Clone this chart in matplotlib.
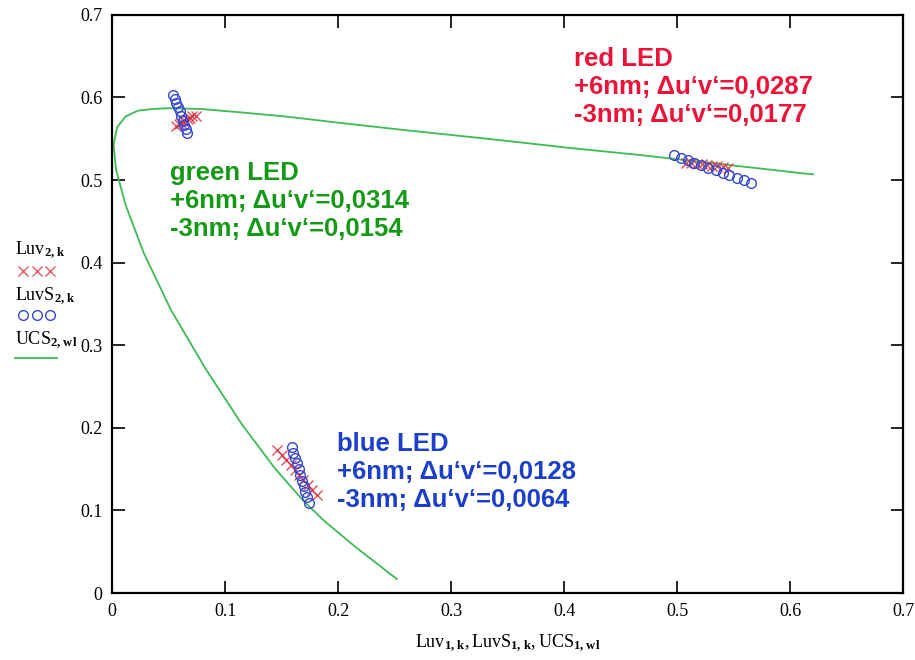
"""
LED colour shift chart: u'v' chromaticity of shifted LED spectra
on the CIE 1976 spectral locus (Mathcad style plot).
"""

import matplotlib
matplotlib.use("Agg")
import matplotlib.pyplot as plt
from matplotlib.lines import Line2D

plt.rcParams["mathtext.fontset"] = "custom"
plt.rcParams["mathtext.rm"] = "Liberation Serif"
plt.rcParams["mathtext.it"] = "Liberation Serif:italic"
plt.rcParams["mathtext.bf"] = "Liberation Serif:bold"

# ── DATA ─────────────────────────────────────────────────────
# spectral locus (UCS), blue end -> red end
ucs_u = [0.252, 0.246, 0.235, 0.216, 0.188, 0.169, 0.144, 0.115, 0.083,
         0.052, 0.028, 0.012, 0.0035, 0.0014, 0.0046, 0.012, 0.023, 0.036,
         0.050, 0.079, 0.113, 0.153, 0.203, 0.262, 0.332, 0.404, 0.469,
         0.520, 0.583, 0.611, 0.620]
ucs_v = [0.017, 0.023, 0.035, 0.055, 0.087, 0.112, 0.151, 0.204, 0.271,
         0.343, 0.412, 0.470, 0.513, 0.543, 0.564, 0.577, 0.584, 0.586,
         0.587, 0.586, 0.582, 0.577, 0.569, 0.560, 0.550, 0.539, 0.530,
         0.522, 0.5125, 0.508, 0.507]

# Luv (crosses): green, red, blue LED
luv_u = [0.057, 0.059, 0.061, 0.063, 0.065, 0.067, 0.069, 0.071, 0.074,
         0.508, 0.5125, 0.517, 0.5215, 0.526, 0.531, 0.5355, 0.540, 0.545,
         0.146, 0.150, 0.154, 0.158, 0.162, 0.1655, 0.169, 0.173, 0.177, 0.181]
luv_v = [0.566, 0.568, 0.569, 0.571, 0.572, 0.574, 0.575, 0.577, 0.578,
         0.521, 0.5205, 0.520, 0.519, 0.518, 0.5175, 0.517, 0.516, 0.515,
         0.173, 0.167, 0.161, 0.155, 0.149, 0.143, 0.137, 0.131, 0.125, 0.119]

# LuvS (circles): green, red, blue LED
luvs_u = [0.054, 0.0555, 0.057, 0.0585, 0.060, 0.0612, 0.0625, 0.064, 0.0653, 0.0667,
          0.497, 0.503, 0.509, 0.515, 0.521, 0.527, 0.534, 0.540, 0.546, 0.553, 0.559, 0.565,
          0.159, 0.1605, 0.162, 0.1635, 0.165, 0.1665, 0.168, 0.1695, 0.171, 0.1725, 0.174]
luvs_v = [0.603, 0.598, 0.593, 0.588, 0.583, 0.578, 0.572, 0.567, 0.562, 0.557,
          0.530, 0.527, 0.524, 0.521, 0.518, 0.515, 0.512, 0.509, 0.506, 0.503, 0.500, 0.497,
          0.177, 0.170, 0.1635, 0.157, 0.150, 0.143, 0.136, 0.129, 0.1225, 0.116, 0.109]

ticks = [0, 0.1, 0.2, 0.3, 0.4, 0.5, 0.6, 0.7]
tick_labels = ["0", "0.1", "0.2", "0.3", "0.4", "0.5", "0.6", "0.7"]

notes = [
    ("red LED\n+6nm; \u0394u\u2018v\u2018=0,0287\n-3nm; \u0394u\u2018v\u2018=0,0177", 0.409, 0.661, "#EE1238"),
    ("green LED\n+6nm; \u0394u\u2018v\u2018=0,0314\n-3nm; \u0394u\u2018v\u2018=0,0154", 0.051, 0.523, "#159A15"),
    ("blue LED\n+6nm; \u0394u\u2018v\u2018=0,0128\n-3nm; \u0394u\u2018v\u2018=0,0064", 0.199, 0.195, "#1B3FCB"),
]

# ── PLOT ─────────────────────────────────────────────────────
fig = plt.figure(figsize=(9.15, 6.6), dpi=100)
ax = fig.add_axes([0.1224, 0.1015, 0.865, 0.876])

ax.plot(ucs_u, ucs_v, color="#3DBB55", linewidth=1.3, zorder=2)
ax.plot(luv_u, luv_v, linestyle="none", marker="x", color="#E0303C",
        markersize=7, markeredgewidth=1.0, alpha=0.85, zorder=3)
ax.plot(luvs_u, luvs_v, linestyle="none", marker="o", markerfacecolor="none",
        markeredgecolor="#3548D0", markersize=7, markeredgewidth=1.0, zorder=4)

for txt, x, y, col in notes:
    ax.text(x, y, txt, color=col, fontsize=18.5, fontweight="bold",
            family="Liberation Sans", va="top", ha="left", linespacing=1.2)

ax.set_xlim(0, 0.7)
ax.set_ylim(0, 0.7)
ax.set_xticks(ticks)
ax.set_yticks(ticks)
ax.set_xticklabels(tick_labels, family="Liberation Serif", fontsize=13)
ax.set_yticklabels(tick_labels, family="Liberation Serif", fontsize=13)
ax.tick_params(direction="in", length=9, width=1.2, top=True, right=True, pad=7)
for s in ax.spines.values():
    s.set_linewidth(1.6)

ax.set_xlabel(r"$\mathrm{Luv}_{\mathbf{1,\,k}}\mathrm{,LuvS}_{\mathbf{1,\,k}}\mathrm{,UCS}_{\mathbf{1,\,wl}}$",
              fontsize=13, labelpad=9)

# Mathcad style trace legend on the left
fig.text(0.016, 0.615, r"$\mathrm{Luv}_{\mathbf{2,\,k}}$", fontsize=13)
fig.add_artist(Line2D([0.025, 0.040, 0.055], [0.590, 0.590, 0.590], linestyle="none",
                      marker="x", color="#E0303C", markersize=7, alpha=0.8))
fig.text(0.016, 0.545, r"$\mathrm{LuvS}_{\mathbf{2,\,k}}$", fontsize=13)
fig.add_artist(Line2D([0.025, 0.040, 0.055], [0.522, 0.522, 0.522], linestyle="none",
                      marker="o", markerfacecolor="none", markeredgecolor="#3548D0", markersize=7))
fig.text(0.016, 0.478, r"$\mathrm{UCS}_{\mathbf{2,\,wl}}$", fontsize=13)
fig.add_artist(Line2D([0.016, 0.062], [0.458, 0.458], color="#3DBB55", linewidth=1.3))

fig.savefig("out.png", dpi=100)
